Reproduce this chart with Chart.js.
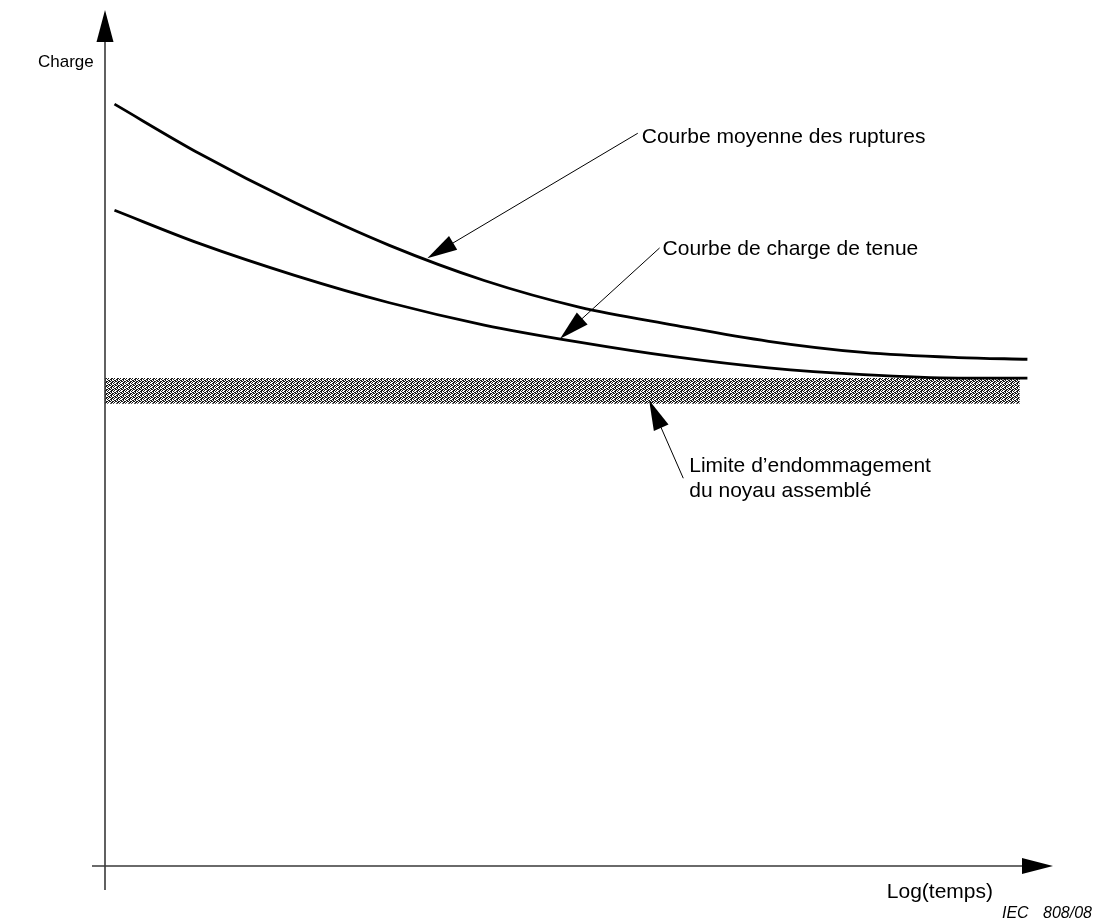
<!DOCTYPE html>
<html>
<head>
<meta charset="utf-8">
<script src="https://cdn.jsdelivr.net/npm/chart.js@4.4.1/dist/chart.umd.min.js"></script>
<style>
  html, body { margin: 0; padding: 0; background: #ffffff; }
  #wrap { width: 1094px; height: 922px; position: relative; }
</style>
</head>
<body>
<div id="wrap"><canvas id="chart"></canvas></div>
<script>
// Log(temps) positions shared by both curves (arbitrary units 0–100)
const logTime = [1, 10, 20, 30, 40, 50, 60, 70, 80, 90, 97.3];
// Charge (arbitrary units 0–100)
const meanRupture   = [89.0, 83.2, 77.5, 72.5, 68.4, 65.3, 63.2, 61.3, 60.0, 59.4, 59.2];
const withstandLoad = [76.6, 72.7, 69.0, 65.8, 63.2, 61.2, 59.5, 58.2, 57.4, 57.0, 57.0];

// Damage limit of the assembled core: a band of charge values
const damageBandLow  = 54.0;
const damageBandHigh = 57.0;
const damageBandSpan = [0, 96.5];

// Callouts: text, arrow tip on the mark, arrow tail at the text
const calloutText = [
  ["Courbe moyenne des ruptures"],
  ["Courbe de charge de tenue"],
  ["Limite d\u2019endommagement", "du noyau assemblé"]
];
const calloutTip  = [[34.0, 71.0], [48.0, 61.6], [57.4, 54.4]];
const calloutTail = [[56.2, 85.6], [58.5, 72.2], [61.0, 45.3]];

const axisTitleY = "Charge";
const axisTitleX = "Log(temps)";
const figureRef  = ["IEC", "808/08"];

const xy = (xs, ys) => xs.map((x, i) => ({ x: x, y: ys[i] }));
const flat = (v) => damageBandSpan.map(x => ({ x: x, y: v }));

// Stippled fill for the damage band
function stipple() {
  const rows = ["110100", "011011", "100110", "001101"];
  const c = document.createElement("canvas");
  c.width = rows[0].length; c.height = rows.length;
  const g = c.getContext("2d");
  g.fillStyle = "#ffffff"; g.fillRect(0, 0, c.width, c.height);
  g.fillStyle = "#1a1a1a";
  rows.forEach((r, y) => { for (let x = 0; x < r.length; x++) if (r[x] === "1") g.fillRect(x, y, 1, 1); });
  return g.createPattern(c, "repeat");
}

const FONT = '"Liberation Sans", Arial, Helvetica, sans-serif';
const labelOffset = [[4, 10], [3, 7], [6, -6]];
const LINE_GAP = 25;

function arrowHead(ctx, tx, ty, fx, fy, len, half) {
  const a = Math.atan2(ty - fy, tx - fx);
  const bx = tx - len * Math.cos(a), by = ty - len * Math.sin(a);
  const nx = -Math.sin(a) * half, ny = Math.cos(a) * half;
  ctx.beginPath();
  ctx.moveTo(tx, ty);
  ctx.lineTo(bx + nx, by + ny);
  ctx.lineTo(bx - nx, by - ny);
  ctx.closePath();
  ctx.fill();
}

const schematicPlugin = {
  id: "schematic",
  afterDatasetsDraw(chart) {
    const ctx = chart.ctx;
    const xs = chart.scales.x, ys = chart.scales.y;
    const x0 = xs.getPixelForValue(0), y0 = ys.getPixelForValue(0);
    const xEnd = xs.getPixelForValue(100), yEnd = ys.getPixelForValue(100);
    ctx.save();

    // axes
    ctx.strokeStyle = "#3a3a3a";
    ctx.fillStyle = "#000000";
    ctx.lineWidth = 1.6;
    ctx.beginPath();
    ctx.moveTo(x0, y0 + 24); ctx.lineTo(x0, yEnd + 20);
    ctx.moveTo(x0 - 13, y0); ctx.lineTo(xEnd - 20, y0);
    ctx.stroke();
    arrowHead(ctx, x0, yEnd, x0, yEnd + 40, 32, 8.5);
    arrowHead(ctx, xEnd, y0, xEnd - 40, y0, 31, 8);

    // callouts
    ctx.strokeStyle = "#000000";
    ctx.lineWidth = 1;
    ctx.font = "21px " + FONT;
    ctx.textBaseline = "alphabetic";
    ctx.textAlign = "left";
    calloutText.forEach((lines, i) => {
      const tx = xs.getPixelForValue(calloutTip[i][0]), ty = ys.getPixelForValue(calloutTip[i][1]);
      const fx = xs.getPixelForValue(calloutTail[i][0]), fy = ys.getPixelForValue(calloutTail[i][1]);
      const a = Math.atan2(ty - fy, tx - fx);
      ctx.beginPath();
      ctx.moveTo(fx, fy);
      ctx.lineTo(tx - 25 * Math.cos(a), ty - 25 * Math.sin(a));
      ctx.stroke();
      arrowHead(ctx, tx, ty, fx, fy, 30, 8);
      lines.forEach((t, k) => {
        ctx.fillText(t, fx + labelOffset[i][0], fy + labelOffset[i][1] + k * LINE_GAP);
      });
    });

    // axis titles
    ctx.textAlign = "right";
    ctx.fillText(axisTitleX, xEnd - 60, y0 + 32);
    ctx.textAlign = "left";
    ctx.font = "17px " + FONT;
    ctx.fillText(axisTitleY, x0 - 67, yEnd + 57);
    ctx.font = "italic 16px " + FONT;
    ctx.fillText(figureRef[0], xEnd - 51, y0 + 52);
    ctx.fillText(figureRef[1], xEnd - 10, y0 + 52);
    ctx.restore();
  }
};

const pattern = stipple();

new Chart(document.getElementById("chart"), {
  type: "line",
  data: {
    datasets: [
      { data: xy(logTime, meanRupture), borderColor: "#000", borderWidth: 2.8, pointRadius: 0,
        cubicInterpolationMode: "monotone", fill: false },
      { data: xy(logTime, withstandLoad), borderColor: "#000", borderWidth: 2.8, pointRadius: 0,
        cubicInterpolationMode: "monotone", fill: false },
      { data: flat(damageBandHigh), borderWidth: 0, borderColor: "rgba(0,0,0,0)", pointRadius: 0,
        backgroundColor: pattern, fill: "+1" },
      { data: flat(damageBandLow), borderWidth: 0, borderColor: "rgba(0,0,0,0)", pointRadius: 0, fill: false }
    ]
  },
  options: {
    responsive: true,
    maintainAspectRatio: false,
    animation: false,
    layout: { padding: { left: 105, right: 41, top: 10, bottom: 56 } },
    scales: {
      x: { type: "linear", min: 0, max: 100, display: false },
      y: { type: "linear", min: 0, max: 100, display: false }
    },
    plugins: {
      legend: { display: false },
      tooltip: { enabled: false },
      filler: { drawTime: "beforeDatasetsDraw" }
    }
  },
  plugins: [schematicPlugin]
});
</script>
</body>
</html>
